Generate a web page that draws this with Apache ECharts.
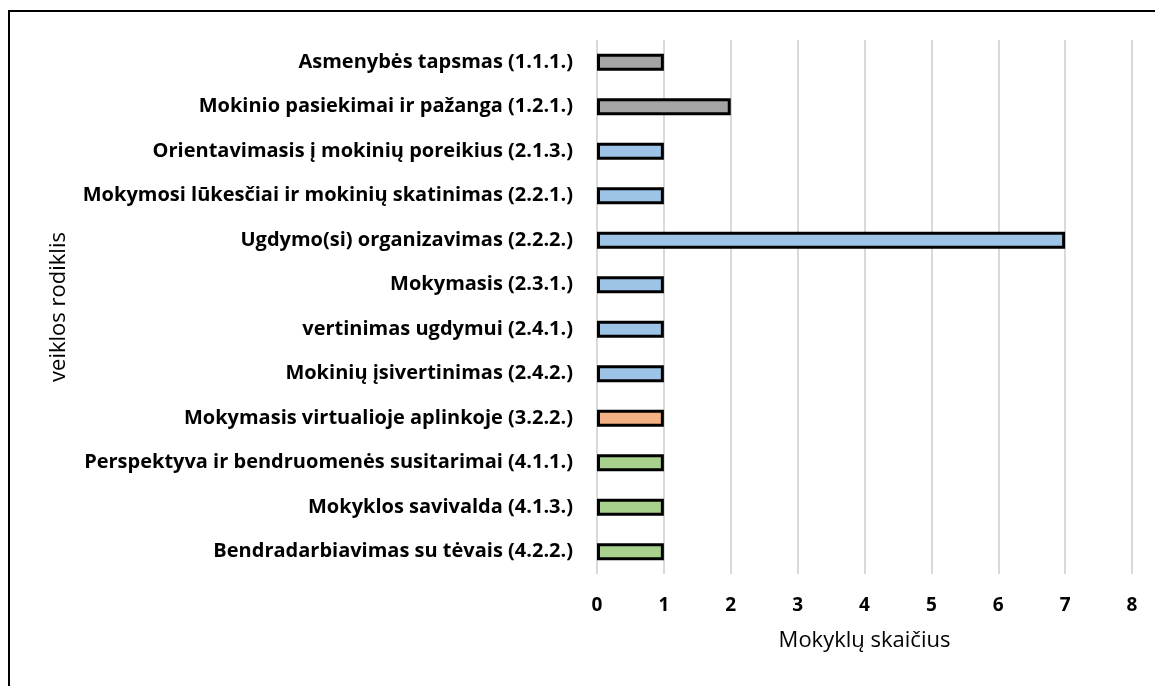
<!DOCTYPE html>
<html>
<head>
<meta charset="utf-8">
<script src="https://cdn.jsdelivr.net/npm/echarts@6/dist/echarts.min.js"></script>
<style>
    html, body { margin: 0; padding: 0; background: #fff; }
    .frame {
        position: absolute;
        left: 8px;
        top: 10px;
        width: 1200px;
        height: 720px;
        border-left: 2px solid #000;
        border-top: 2px solid #000;
    }
    .echartContent {
        position: absolute;
        left: 0;
        top: 0;
        width: 1155px;
        height: 686px;
    }
</style>
</head>
<body>
<div class="frame"></div>
<div class="echartContent"></div>
<script>
// veiklos rodikliai ir mokyklų skaičius
var categories = [
    'Asmenybės tapsmas (1.1.1.)',
    'Mokinio pasiekimai ir pažanga (1.2.1.)',
    'Orientavimasis į mokinių poreikius (2.1.3.)',
    'Mokymosi lūkesčiai ir mokinių skatinimas (2.2.1.)',
    'Ugdymo(si) organizavimas (2.2.2.)',
    'Mokymasis (2.3.1.)',
    'vertinimas ugdymui (2.4.1.)',
    'Mokinių įsivertinimas (2.4.2.)',
    'Mokymasis virtualioje aplinkoje (3.2.2.)',
    'Perspektyva ir bendruomenės susitarimai (4.1.1.)',
    'Mokyklos savivalda (4.1.3.)',
    'Bendradarbiavimas su tėvais (4.2.2.)'
];
var values = [1, 2, 1, 1, 7, 1, 1, 1, 1, 1, 1, 1];
// srities numeris (pirmas rodiklio skaitmuo)
var areas = [1, 1, 2, 2, 2, 2, 2, 2, 3, 4, 4, 4];
var xTicks = [0, 1, 2, 3, 4, 5, 6, 7, 8];

var areaColors = {
    1: '#A5A5A5',
    2: '#9DC3E6',
    3: '#F4B183',
    4: '#A9D18E'
};

var fontName = "'Open Sans', 'Noto Sans', sans-serif";

var barData = values.map(function (v, i) {
    return {
        value: v,
        itemStyle: {
            color: areaColors[areas[i]]
        }
    };
});

var echartContent = document.getElementsByClassName("echartContent")[0];
var myChart = echarts.init(echartContent);
myChart.setOption({
    animation: false,
    textStyle: {
        fontFamily: fontName
    },
    grid: {
        left: 597,
        right: 23,
        top: 40,
        bottom: 112
    },
    xAxis: {
        type: 'value',
        min: xTicks[0],
        max: xTicks[xTicks.length - 1],
        interval: 1,
        name: 'Mokyklų skaičius',
        nameLocation: 'middle',
        nameGap: 56,
        nameTextStyle: {
            color: '#000',
            fontSize: 22,
            fontFamily: fontName
        },
        axisLine: { show: false },
        axisTick: { show: false },
        axisLabel: {
            margin: 22,
            color: '#000',
            fontSize: 19,
            fontWeight: 'bold',
            fontFamily: fontName
        },
        splitLine: {
            show: true,
            lineStyle: {
                color: '#D9D9D9',
                width: 2
            }
        }
    },
    yAxis: {
        type: 'category',
        inverse: true,
        data: categories,
        name: 'veiklos rodiklis',
        nameLocation: 'middle',
        nameGap: 527,
        nameTextStyle: {
            color: '#000',
            fontSize: 22,
            fontFamily: fontName
        },
        axisLine: { show: false },
        axisTick: { show: false },
        axisLabel: {
            margin: 24,
            color: '#000',
            fontSize: 20,
            fontWeight: 'bold',
            fontFamily: fontName
        },
        splitLine: { show: false }
    },
    series: [{
        type: 'bar',
        data: barData,
        barWidth: 17,
        itemStyle: {
            borderColor: '#000',
            borderWidth: 3
        }
    }]
});
</script>
</body>
</html>
